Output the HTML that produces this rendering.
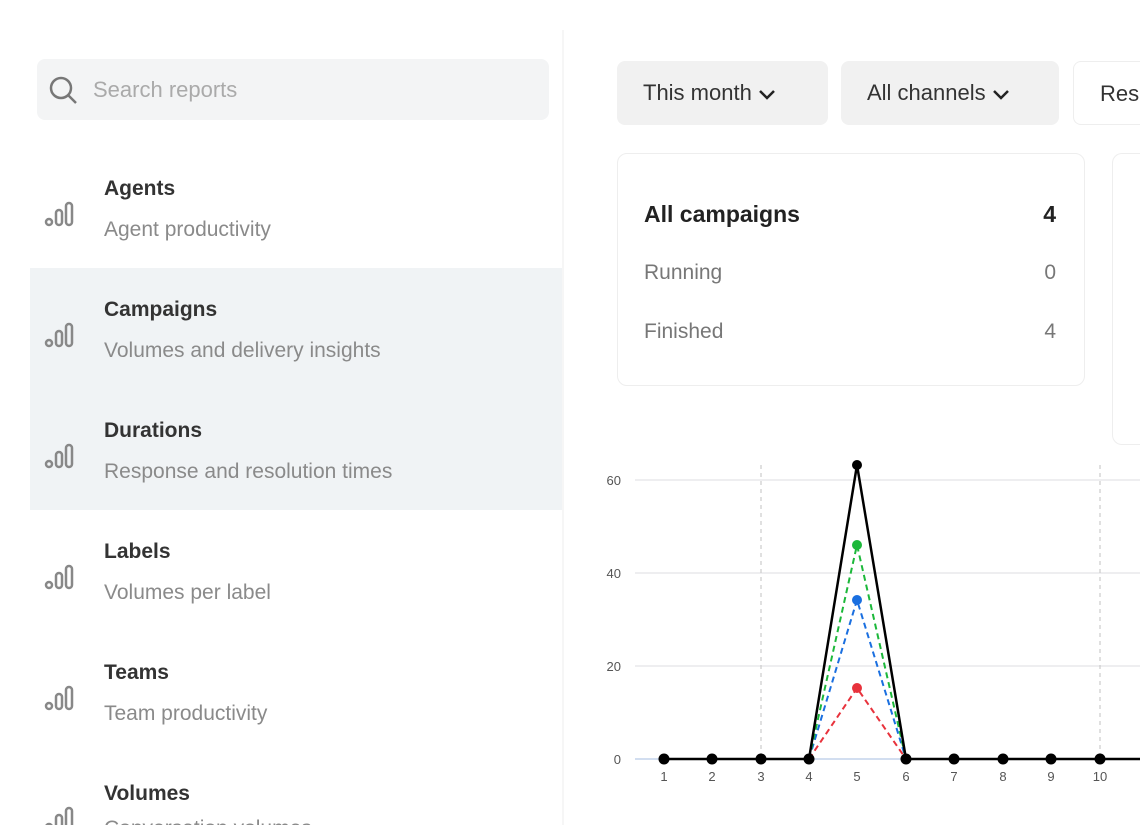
<!DOCTYPE html>
<html><head><style>
html,body{margin:0;width:1140px;height:825px;overflow:hidden;background:#fff;font-family:"Liberation Sans",sans-serif;position:relative}
.abs{position:absolute}
.search{left:37px;top:59px;width:512px;height:61px;background:#f3f4f5;border-radius:8px}
.item{left:30px;width:532px;height:121px;overflow:hidden}
.t{position:absolute;left:74px;font-size:21px;color:#333;font-weight:bold}
.s{position:absolute;left:74px;font-size:21px;color:#8a8a8a}
.ic{position:absolute;left:14px}
.btn{top:61px;height:64px;background:#f1f1f1;border-radius:8px;font-size:22px;color:#333;line-height:64px;box-sizing:border-box;padding-left:26px}
.card{border:1.5px solid #eee;border-radius:10px;background:#fff;box-sizing:border-box}
.row{position:absolute;left:26px;right:28px;font-size:21px;color:#777}
.row span{float:right}
</style></head><body>
<div class="abs" style="left:562px;top:30px;width:2px;height:795px;background:#f6f6f6"></div>
<div class="abs search">
<svg class="abs" style="left:10px;top:15px" width="34" height="34"><circle cx="14" cy="14" r="10" fill="none" stroke="#777" stroke-width="2.5"/><line x1="21" y1="21" x2="29" y2="29" stroke="#777" stroke-width="2.5"/></svg>
<div class="abs" style="left:56px;top:18px;font-size:22px;color:#aaa">Search reports</div>
</div>
<div class="abs" style="left:30px;top:268px;width:532px;height:242px;background:#f0f3f5"></div>
<div class="abs item" style="top:150px"><svg class="ic" style="top:48px" width="40" height="32"><g fill="none" stroke="#888" stroke-width="2.5"><circle cx="5" cy="24" r="3"/><rect x="12" y="12" width="6" height="15" rx="3"/><rect x="22" y="5" width="6" height="22" rx="3"/></g></svg><div class="t" style="top:27px">Agents</div><div class="s" style="top:68px">Agent productivity</div></div>
<div class="abs item" style="top:271px"><svg class="ic" style="top:48px" width="40" height="32"><g fill="none" stroke="#888" stroke-width="2.5"><circle cx="5" cy="24" r="3"/><rect x="12" y="12" width="6" height="15" rx="3"/><rect x="22" y="5" width="6" height="22" rx="3"/></g></svg><div class="t" style="top:27px">Campaigns</div><div class="s" style="top:68px">Volumes and delivery insights</div></div>
<div class="abs item" style="top:392px"><svg class="ic" style="top:48px" width="40" height="32"><g fill="none" stroke="#888" stroke-width="2.5"><circle cx="5" cy="24" r="3"/><rect x="12" y="12" width="6" height="15" rx="3"/><rect x="22" y="5" width="6" height="22" rx="3"/></g></svg><div class="t" style="top:27px">Durations</div><div class="s" style="top:68px">Response and resolution times</div></div>
<div class="abs item" style="top:513px"><svg class="ic" style="top:48px" width="40" height="32"><g fill="none" stroke="#888" stroke-width="2.5"><circle cx="5" cy="24" r="3"/><rect x="12" y="12" width="6" height="15" rx="3"/><rect x="22" y="5" width="6" height="22" rx="3"/></g></svg><div class="t" style="top:27px">Labels</div><div class="s" style="top:68px">Volumes per label</div></div>
<div class="abs item" style="top:634px"><svg class="ic" style="top:48px" width="40" height="32"><g fill="none" stroke="#888" stroke-width="2.5"><circle cx="5" cy="24" r="3"/><rect x="12" y="12" width="6" height="15" rx="3"/><rect x="22" y="5" width="6" height="22" rx="3"/></g></svg><div class="t" style="top:27px">Teams</div><div class="s" style="top:68px">Team productivity</div></div>
<div class="abs item" style="top:755px;height:70px"><svg class="ic" style="top:48px" width="40" height="32"><g fill="none" stroke="#888" stroke-width="2.5"><circle cx="5" cy="24" r="3"/><rect x="12" y="12" width="6" height="15" rx="3"/><rect x="22" y="5" width="6" height="22" rx="3"/></g></svg><div class="t" style="top:27px">Volumes</div><div class="s" style="top:62px">Conversation volumes</div></div>

<div class="abs btn" style="left:617px;width:211px">This month <svg width="18" height="12"><polyline points="2,3 9,10 16,3" fill="none" stroke="#222" stroke-width="2.5"/></svg></div>
<div class="abs btn" style="left:841px;width:218px">All channels <svg width="18" height="12"><polyline points="2,3 9,10 16,3" fill="none" stroke="#222" stroke-width="2.5"/></svg></div>
<div class="abs btn" style="left:1073px;width:67px;background:#fff;border:1.5px solid #eee;border-right:none;border-radius:8px 0 0 8px">Res</div>

<div class="abs card" style="left:617px;top:153px;width:468px;height:233px">
<div class="row" style="top:47px;color:#222;font-size:23px;font-weight:bold">All campaigns<span>4</span></div>
<div class="row" style="top:107px">Running<span>0</span></div>
<div class="row" style="top:166px">Finished<span>4</span></div>
</div>
<div class="abs card" style="left:1112px;top:153px;width:28px;height:292px;border-right:none;border-radius:10px 0 0 10px"></div>

<svg class="abs" style="left:0;top:0" width="1140" height="825">
<g stroke="#e3e3e6" stroke-width="1.2"><line x1="635" y1="480" x2="1140" y2="480"/><line x1="635" y1="573" x2="1140" y2="573"/><line x1="635" y1="666" x2="1140" y2="666"/></g>
<line x1="635" y1="759" x2="1140" y2="759" stroke="#b8cbe8" stroke-width="1.2"/>
<g stroke="#ccc" stroke-dasharray="4,4" stroke-width="1.2"><line x1="761" y1="465" x2="761" y2="759"/><line x1="1100" y1="465" x2="1100" y2="759"/></g>
<g font-size="13" fill="#555" text-anchor="end"><text x="621" y="485">60</text><text x="621" y="578">40</text><text x="621" y="671">20</text><text x="621" y="764">0</text></g>
<g font-size="13" fill="#555" text-anchor="middle"><text x="664" y="781">1</text><text x="712" y="781">2</text><text x="761" y="781">3</text><text x="809" y="781">4</text><text x="857" y="781">5</text><text x="906" y="781">6</text><text x="954" y="781">7</text><text x="1003" y="781">8</text><text x="1051" y="781">9</text><text x="1100" y="781">10</text></g>
<g fill="none" stroke-width="2" stroke-dasharray="6,4">
<polyline points="809,759 857,688 906,759" stroke="#e8323c"/>
<polyline points="809,759 857,600 906,759" stroke="#1a6fe0"/>
<polyline points="809,759 857,545 906,759" stroke="#1cb83a"/>
</g>
<circle cx="857" cy="688" r="5" fill="#e8323c"/><circle cx="857" cy="600" r="5" fill="#1a6fe0"/><circle cx="857" cy="545" r="5" fill="#1cb83a"/>
<polyline points="664,759 809,759 857,465 906,759 1140,759" fill="none" stroke="#000" stroke-width="2.5"/>
<g fill="#000"><circle cx="664" cy="759" r="5.5"/><circle cx="712" cy="759" r="5.5"/><circle cx="761" cy="759" r="5.5"/><circle cx="809" cy="759" r="5.5"/><circle cx="857" cy="465" r="5"/><circle cx="906" cy="759" r="5.5"/><circle cx="954" cy="759" r="5.5"/><circle cx="1003" cy="759" r="5.5"/><circle cx="1051" cy="759" r="5.5"/><circle cx="1100" cy="759" r="5.5"/></g>
</svg>
</body></html>
